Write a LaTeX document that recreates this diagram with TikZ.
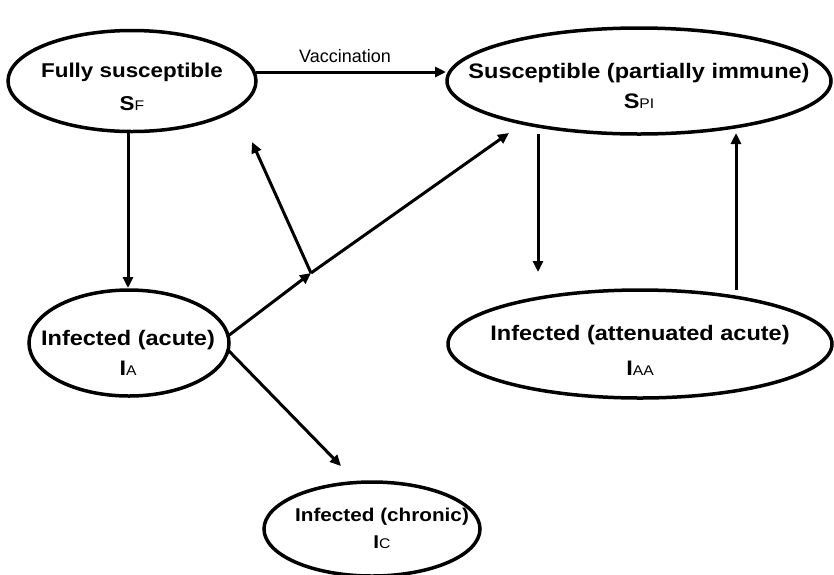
\documentclass[tikz,border=0pt]{standalone}
\usepackage{fontspec}
\setmainfont{Liberation Sans}
\newfontfamily\nodefam[FakeStretch=1.12]{Liberation Sans}
\usetikzlibrary{shapes.geometric,arrows.meta}
\newcommand{\sbs}[1]{{\fontsize{14}{16}\selectfont\mdseries #1}}
\begin{document}
\begin{tikzpicture}[x=1pt,y=-1pt,
  state/.style={draw,line width=3.5pt,ellipse,inner sep=0pt},
  txt/.style 2 args={align=center,inner sep=0pt,font=\nodefam\bfseries\fontsize{#1}{#2}\selectfont},
  arr/.style={line width=3pt,-{Triangle[length=11pt,width=10pt]}}]
\useasboundingbox (0,0) rectangle (834,574);
\node[state,minimum width=248pt,minimum height=101pt] (sf) at (132,81) {};
\node[state,minimum width=384pt,minimum height=106pt] (spi) at (639,81) {};
\node[state,minimum width=200pt,minimum height=106pt] (ia) at (129,343) {};
\node[state,minimum width=384pt,minimum height=108pt] (iaa) at (640,344) {};
\node[state,minimum width=216pt,minimum height=94pt] (ic) at (372,529) {};
\node[txt={20}{33}] (sft) at (132,87) {Fully susceptible\\S\sbs{F}};
\node[txt={21}{30}] (spit) at (639,86) {Susceptible (partially immune)\\S\sbs{PI}};
\node[txt={21}{30}] (iat) at (128,353) {Infected (acute)\\I\sbs{A}};
\node[txt={21}{35}] (iaat) at (640,350) {Infected (attenuated acute)\\I\sbs{AA}};
\node[txt={18.5}{27}] (ict) at (382,528) {Infected (chronic)\\I\sbs{C}};
\coordinate (j) at (311,273);
\coordinate (sfa) at (256,72);
\coordinate (spia) at (446,72);
\draw[arr] (sfa) -- node[above=4pt,xshift=-6pt,font=\fontsize{18}{21}\selectfont] (vac) {Vaccination} (spia);
\coordinate (sfb) at (128,131);
\coordinate (iatop) at (128,288);
\draw[arr] (sfb) -- (iatop);
\coordinate (iar) at (228,336);
\draw[arr] (iar) -- (j);
\coordinate (spil) at (509,133);
\draw[arr] (j) -- (spil);
\coordinate (sfr) at (252,142);
\draw[arr] (j) -- (sfr);
\coordinate (iarb) at (228,350);
\coordinate (ictop) at (341,466);
\draw[arr] (iarb) -- (ictop);
\coordinate (spib1) at (538,134);
\coordinate (iaatop) at (538,272);
\draw[arr] (spib1) -- (iaatop);
\coordinate (iaat2) at (736,290);
\coordinate (spib2) at (736,133);
\draw[arr] (iaat2) -- (spib2);
\end{tikzpicture}
\end{document}
